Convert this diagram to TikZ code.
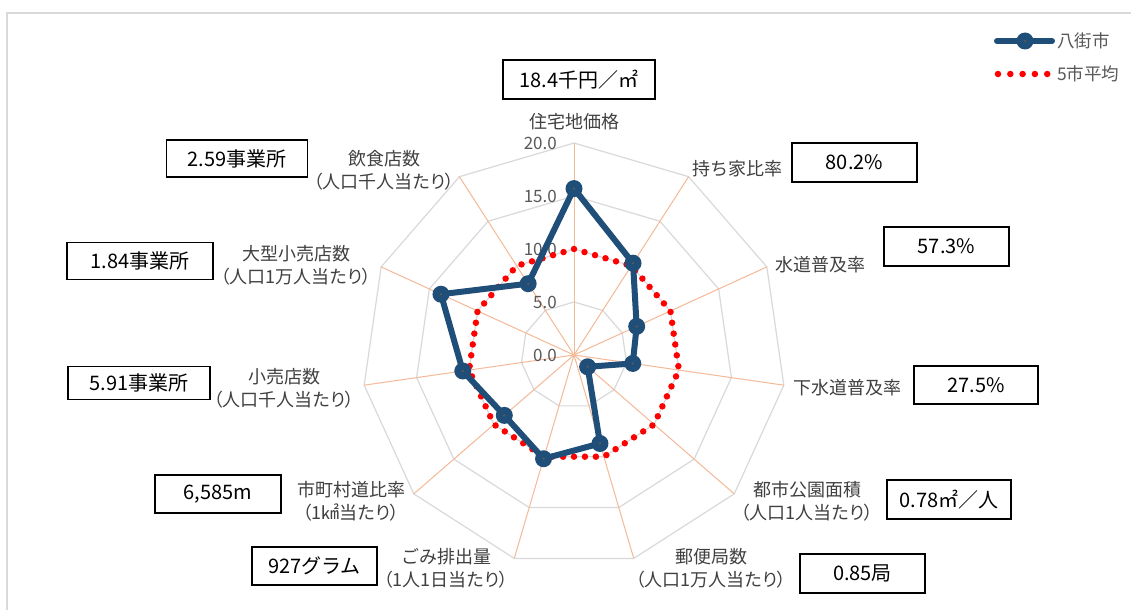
\documentclass[tikz,border=0pt]{standalone}
\usepackage{fontspec}
\setmainfont{Noto Sans CJK JP}
\newfontfamily\jpp{Noto Sans CJK JP}[RawFeature=+palt]
\usetikzlibrary{calc}
\definecolor{navy}{HTML}{1F4E79}
\definecolor{gridc}{HTML}{D9D9D9}
\definecolor{spokec}{HTML}{F4B996}
\definecolor{lblc}{HTML}{404040}
\definecolor{valc}{HTML}{595959}
\definecolor{framec}{HTML}{D9D9D9}
\tikzset{
  gridring/.style={draw=gridc, line width=1.2},
  spokeline/.style={draw=spokec, line width=1},
  dataline/.style={draw=navy, line width=6, line join=round, line cap=round},
  avgline/.style={draw=red, line width=6.5, line cap=round, dash pattern=on 0pt off 10.95pt},
  mk/.style={circle, fill=navy, minimum size=17, inner sep=0},
  mkc/.style={circle, fill=valc, minimum size=2.5, inner sep=0},
  valbox/.style={draw=black, line width=1.5, inner sep=0, font=\fontsize{20}{24}\selectfont},
  catlbl/.style={text=lblc, align=center, inner sep=0, font=\fontsize{18}{23}\selectfont},
  ticklbl/.style={text=valc, anchor=east, inner sep=0, font=\fontsize{17}{20}\selectfont},
  leglbl/.style={text=valc, anchor=west, inner sep=0, font=\fontsize{17.5}{20}\selectfont},
}
\begin{document}
\begin{tikzpicture}[x=1pt,y=-1pt]
\useasboundingbox (0,0) rectangle (1131,610);
\fill[white] (0,0) rectangle (1131,610);
\draw[framec, line width=1.5] (7,610) -- (7,13) -- (1131,13);

\begin{scope}[shift={(574,355)}]
  \foreach \r in {53,106,159,212}{
    \draw[gridring] (-90:\r) \foreach \k in {1,...,10}{ -- ({\k*360/11-90}:\r)} -- cycle;
  }
  \foreach \k in {0,...,10}
    \draw[spokeline] (0,0) -- ({\k*360/11-90}:212);
  \foreach \k/\v in {0/15.7,1/10.3,2/6.5,3/5.6,4/1.7,5/8.7,6/10.2,7/8.7,8/10.6,9/13.8,10/8.0}
    \coordinate (p\k) at ({\k*360/11-90}:{\v*10.6});
  \foreach \k in {0,...,10}
    \coordinate (a\k) at ({\k*360/11-90}:106);
\end{scope}

% tick labels
\node[ticklbl] (t20) at (557,143) {20.0};
\node[ticklbl] (t15) at (557,196) {15.0};
\node[ticklbl] (t10) at (557,249) {10.0};
\node[ticklbl] (t5)  at (557,302) {5.0};
\node[ticklbl] (t0)  at (557,355) {0.0};

% average
\draw[avgline] (a0) -- (a1) -- (a2) -- (a3) -- (a4) -- (a5) -- (a6) -- (a7) -- (a8) -- (a9) -- (a10) -- cycle;
% data
\draw[dataline] (p0) -- (p1) -- (p2) -- (p3) -- (p4) -- (p5) -- (p6) -- (p7) -- (p8) -- (p9) -- (p10) -- cycle;
\foreach \k in {0,...,10}{
  \node[mk] (m\k) at (p\k) {};
  \node[mkc] (c\k) at (p\k) {};
}

% category labels
\node[catlbl] (l0) at (574,122) {住宅地価格};
\node[catlbl] (l1) at (737,169) {持ち家比率};
\node[catlbl] (l2) at (820,265) {水道普及率};
\node[catlbl] (l3) at (847,388) {下水道普及率};
\node[catlbl] (l4) at (807,501.5) {都市公園面積\\{\jpp （人口1人当たり）}};
\node[catlbl] (l5) at (711,568.5) {郵便局数\\{\jpp （人口1万人当たり）}};
\node[catlbl] (l6) at (446,568.5) {ごみ排出量\\{\jpp （1人1日当たり）}};
\node[catlbl] (l7) at (351,501.5) {市町村道比率\\{\jpp （1㎢当たり）}};
\node[catlbl] (l8) at (284,388.5) {小売店数\\{\jpp （人口千人当たり）}};
\node[catlbl] (l9) at (296,265) {大型小売店数\\{\jpp （人口1万人当たり）}};
\node[catlbl] (l10) at (384,170) {飲食店数\\{\jpp （人口千人当たり）}};

% value boxes
\node[valbox, minimum width=152, minimum height=39] (b0) at (579,79.5) {18.4千円／㎡};
\node[valbox, minimum width=125, minimum height=39] (b1) at (854.5,162.5) {80.2\%};
\node[valbox, minimum width=125, minimum height=39] (b2) at (946.5,246.5) {57.3\%};
\node[valbox, minimum width=124, minimum height=38] (b3) at (976,385) {27.5\%};
\node[valbox, minimum width=124, minimum height=39] (b4) at (949,499.5) {0.78㎡／人};
\node[valbox, minimum width=125, minimum height=39] (b5) at (862.5,573.5) {0.85局};
\node[valbox, minimum width=125, minimum height=38] (b6) at (314.5,566) {927グラム};
\node[valbox, minimum width=126, minimum height=38] (b7) at (218,494) {6,585m};
\node[valbox, minimum width=142, minimum height=33] (b8) at (139,383) {5.91事業所};
\node[valbox, minimum width=146, minimum height=37] (b9) at (140,261) {1.84事業所};
\node[valbox, minimum width=141, minimum height=37] (b10) at (237,158.5) {2.59事業所};

% legend
\coordinate (lg1a) at (997,41);
\coordinate (lg1b) at (1052,41);
\draw[dataline] (lg1a) -- (lg1b);
\node[mk] (lgm) at (1025,41) {};
\node[mkc] (lgc) at (1025,41) {};
\node[leglbl] (lgt1) at (1057,41) {八街市};
\coordinate (lg2a) at (998,74);
\coordinate (lg2b) at (1047.5,74);
\draw[avgline, dash pattern=on 0pt off 12.3pt] (lg2a) -- (lg2b);
\node[leglbl] (lgt2) at (1057,74) {5市平均};
\end{tikzpicture}
\end{document}
